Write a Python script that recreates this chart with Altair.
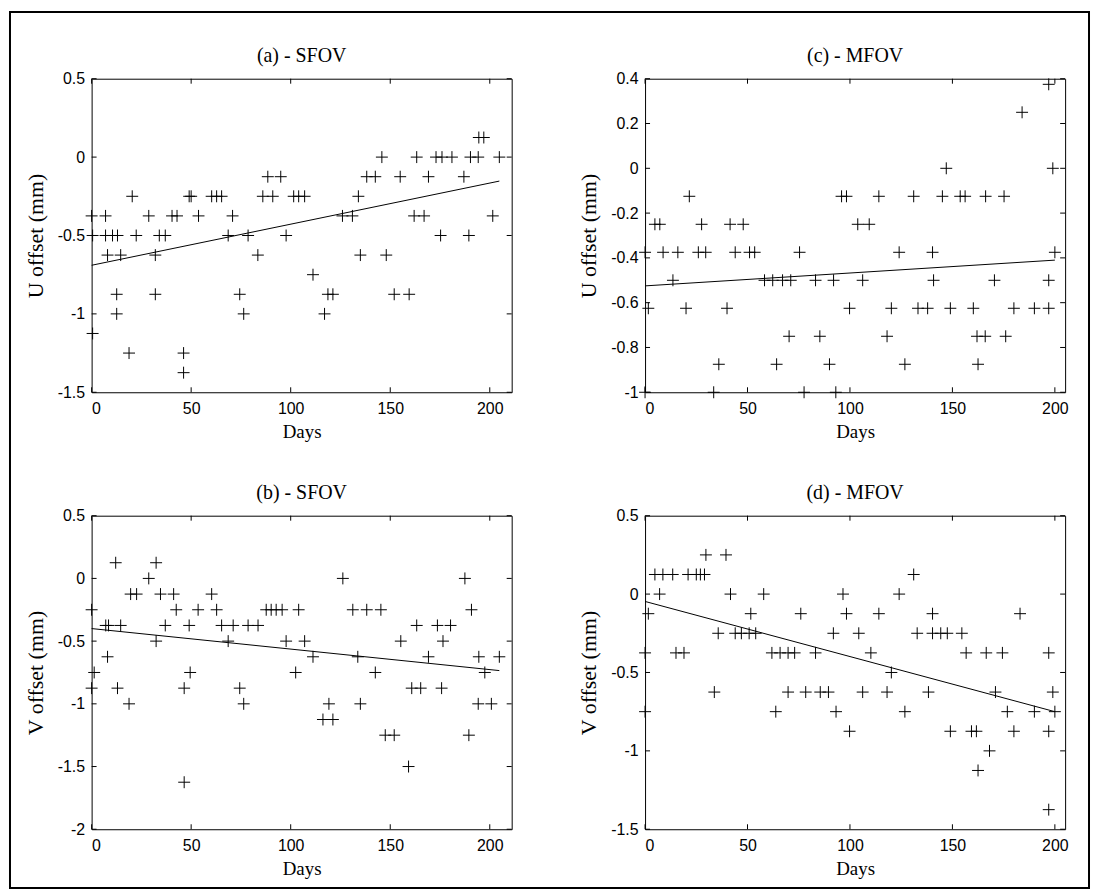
import altair as alt
import pandas as pd

# ---------------- data ----------------
# (a) U offset, SFOV
a_days = [194.5, 197,
          145.8, 163.3, 173, 176, 181, 190.3, 194.2, 204.8,
          88.5, 95, 138.2, 142.5, 155, 169.2, 187,
          20.4, 49, 50, 60.3, 62.8, 65.3, 86, 91, 101.5, 104, 107, 134,
          0, 7, 28.7, 40.4, 42.9, 53.7, 70.8, 126, 131, 162, 167, 201.5,
          0.5, 7, 10.5, 13, 22.4, 34, 37, 68.6, 78.6, 97.7, 175.3, 189.5,
          8, 14.6, 32, 83.5, 135, 148,
          111.2,
          12.6, 32, 74.4, 118.7, 121.2, 152, 159.5,
          12.6, 76.4, 117,
          0.5,
          18.8, 46.2,
          46.2]
a_vals = [0.125] * 2 + [0] * 8 + [-0.125] * 7 + [-0.25] * 12 + [-0.375] * 12 + \
         [-0.5] * 12 + [-0.625] * 6 + [-0.75] * 1 + [-0.875] * 7 + [-1] * 3 + \
         [-1.125] * 1 + [-1.25] * 2 + [-1.375] * 1
a_line_days = [0, 204.8]
a_line_vals = [-0.69, -0.153]

# (b) V offset, SFOV
b_days = [12.1, 32.4,
          28.7, 126.2, 187.5,
          19.6, 22.6, 34.6, 41.2, 60.3,
          0, 42.5, 53.5, 62.8, 87.7, 90.2, 92.7, 95.7, 104, 131.2, 138.2, 145.3, 190.8,
          7.1, 8.5, 14.6, 37, 49, 65.3, 71.1, 78.6, 83.6, 163.3, 173.7, 180.3,
          32.4, 68.6, 97.7, 107, 155.3, 176.5,
          8, 111.2, 133.7, 169.2, 194.5, 204.8,
          1.3, 49.5, 102.5, 142.5, 197.5,
          0, 13, 46.5, 74.4, 160.8, 165.3, 175.8,
          18.8, 76.4, 119.2, 135, 194.2, 200.8,
          116.2, 121.2,
          147.5, 152, 189.5,
          159.2,
          46.5]
b_vals = [0.125] * 2 + [0] * 3 + [-0.125] * 5 + [-0.25] * 13 + [-0.375] * 12 + \
         [-0.5] * 6 + [-0.625] * 6 + [-0.75] * 5 + [-0.875] * 7 + [-1] * 6 + \
         [-1.125] * 2 + [-1.25] * 3 + [-1.5] * 1 + [-1.625] * 1
b_line_days = [0, 204.8]
b_line_vals = [-0.40, -0.735]

# (c) U offset, MFOV
c_days = [197,
          184,
          147, 199,
          21.6, 95.9, 98.3, 114.1, 131.1, 145.1, 153.8, 156.2, 166.2, 175.2,
          4.8, 7.2, 27.6, 41.5, 47.9, 103.8, 109.4,
          0, 8.8, 16, 26, 29.6, 44, 51, 53.5, 75.4, 124, 140.3, 200,
          13.6, 58.3, 62.3, 67.1, 71.1, 83.2, 92, 106.2, 140.8, 170.5, 197,
          1.6, 20, 40, 99.8, 120.2, 133.2, 137.9, 149, 160.2, 180, 190, 197,
          70.3, 85.3, 118.1, 162, 166, 176,
          36, 64.2, 90, 126.8, 162.5,
          0, 33.5, 77.6, 93.1]
c_vals = [0.375] * 1 + [0.25] * 1 + [0] * 2 + [-0.125] * 10 + [-0.25] * 7 + \
         [-0.375] * 12 + [-0.5] * 11 + [-0.625] * 12 + [-0.75] * 6 + \
         [-0.875] * 5 + [-1] * 4
c_line_days = [0, 200]
c_line_vals = [-0.525, -0.41]

# (d) V offset, MFOV
d_days = [29.7, 39.5,
          4.8, 8.7, 13.5, 21, 25, 27, 29, 131.1,
          7.1, 41.7, 57.9, 96.6, 124,
          1.6, 51.6, 76, 98.3, 114.1, 140.3, 183,
          35.7, 44, 47, 50.8, 54, 91.9, 104.3, 132.8, 140.3, 144.3, 147.5, 154.6,
          0, 15.1, 19, 61.9, 65.9, 69.8, 73, 83.2, 110.2, 156.7, 166.5, 174.4, 197,
          120.2,
          33.8, 69.8, 78.4, 85.5, 89.5, 106.2, 118.1, 138.3, 171, 199,
          0, 63.8, 93.2, 126.8, 176.8, 190, 200,
          99.8, 149, 159.3, 161.7, 180, 197,
          168.1,
          162.5,
          197]
d_vals = [0.25] * 2 + [0.125] * 8 + [0] * 5 + [-0.125] * 7 + [-0.25] * 12 + \
         [-0.375] * 13 + [-0.5] * 1 + [-0.625] * 10 + [-0.75] * 7 + \
         [-0.875] * 6 + [-1] * 1 + [-1.125] * 1 + [-1.375] * 1
d_line_days = [0, 200]
d_line_vals = [-0.047, -0.75]

x_ticks = [0, 50, 100, 150, 200]
yticks_a = [-1.5, -1, -0.5, 0, 0.5]
yticks_b = [-2, -1.5, -1, -0.5, 0, 0.5]
yticks_c = [-1, -0.8, -0.6, -0.4, -0.2, 0, 0.2, 0.4]
yticks_d = [-1.5, -1, -0.5, 0, 0.5]

W, H = 422, 315
TICK = 5
CROSS = "M-1,0L1,0M0,-1L0,1"
SERIF = "Liberation Serif"
SANS = "Liberation Sans"


def panel(days, vals, ldays, lvals, title, ytitle, xdom, ydom, yticks, frame=False):
    xs = alt.Scale(domain=xdom, nice=False, zero=False)
    ys = alt.Scale(domain=ydom, nice=False, zero=False)
    xaxis = alt.Axis(values=x_ticks, title="Days", ticks=False, domain=False, grid=False,
                     labelExpr="'' + datum.value", labelFont=SANS, labelFontSize=16,
                     labelPadding=8, labelColor="black", titleFont=SERIF,
                     titleFontSize=19, titleFontWeight="normal", titleColor="black",
                     titlePadding=6)
    yaxis = alt.Axis(values=yticks, title=ytitle, ticks=False, domain=False, grid=False,
                     labelExpr="'' + datum.value", labelFont=SANS, labelFontSize=16,
                     labelPadding=7, labelColor="black", titleFont=SERIF,
                     titleFontSize=22, titleFontWeight="normal", titleColor="black",
                     titlePadding=10)
    pts = alt.Chart(pd.DataFrame({"day": days, "val": vals})).mark_point(
        shape=CROSS, size=144, filled=False, stroke="black", strokeWidth=1, opacity=1
    ).encode(x=alt.X("day:Q", scale=xs, axis=xaxis),
             y=alt.Y("val:Q", scale=ys, axis=yaxis))
    line = alt.Chart(pd.DataFrame({"day": ldays, "val": lvals})).mark_line(
        color="black", strokeWidth=1
    ).encode(x=alt.X("day:Q", scale=xs), y=alt.Y("val:Q", scale=ys))
    xt = pd.DataFrame({"day": x_ticks})
    yt = pd.DataFrame({"val": yticks})
    tb = alt.Chart(xt).mark_rule(color="black", strokeWidth=1).encode(
        x=alt.X("day:Q", scale=xs), y=alt.value(H), y2=alt.value(H - TICK))
    tt = alt.Chart(xt).mark_rule(color="black", strokeWidth=1).encode(
        x=alt.X("day:Q", scale=xs), y=alt.value(0), y2=alt.value(TICK))
    tl = alt.Chart(yt).mark_rule(color="black", strokeWidth=1).encode(
        y=alt.Y("val:Q", scale=ys), x=alt.value(0), x2=alt.value(TICK))
    tr = alt.Chart(yt).mark_rule(color="black", strokeWidth=1).encode(
        y=alt.Y("val:Q", scale=ys), x=alt.value(W), x2=alt.value(W - TICK))
    ttl = alt.Chart(pd.DataFrame({"k": [0]})).mark_text(
        font=SERIF, fontSize=20, color="black", align="center", baseline="middle"
    ).encode(x=alt.value(W / 2), y=alt.value(-23), text=alt.value(title))
    layers = [pts, line, tb, tt, tl, tr, ttl]
    if frame:
        # outer figure border (decoration around the whole figure)
        border = alt.Chart(pd.DataFrame({"k": [0]})).mark_rect(
            filled=False, stroke="black", strokeWidth=2, fillOpacity=0
        ).encode(x=alt.value(-82), x2=alt.value(1002), y=alt.value(-67), y2=alt.value(813))
        layers.append(border)
    return alt.layer(*layers).properties(width=W, height=H)


pa = panel(a_days, a_vals, a_line_days, a_line_vals, "(a) - SFOV", "U offset (mm)",
           [0, 211], [-1.5, 0.5], yticks_a, frame=True)
pb = panel(b_days, b_vals, b_line_days, b_line_vals, "(b) - SFOV", "V offset (mm)",
           [0, 211], [-2, 0.5], yticks_b)
pc = panel(c_days, c_vals, c_line_days, c_line_vals, "(c) - MFOV", "U offset (mm)",
           [0, 205], [-1, 0.4], yticks_c)
pd_ = panel(d_days, d_vals, d_line_days, d_line_vals, "(d) - MFOV", "V offset (mm)",
            [0, 205], [-1.5, 0.5], yticks_d)

chart = alt.concat(
    pa, pc, pb, pd_, columns=2,
    spacing={"row": 124, "column": 134},
    bounds="flush",
).properties(
    padding={"left": 0, "top": 0, "right": 0, "bottom": 0},
    background="white",
).configure_view(stroke="black", strokeWidth=1)

chart.save("out.html", embed_options={"renderer": "svg", "actions": False})
